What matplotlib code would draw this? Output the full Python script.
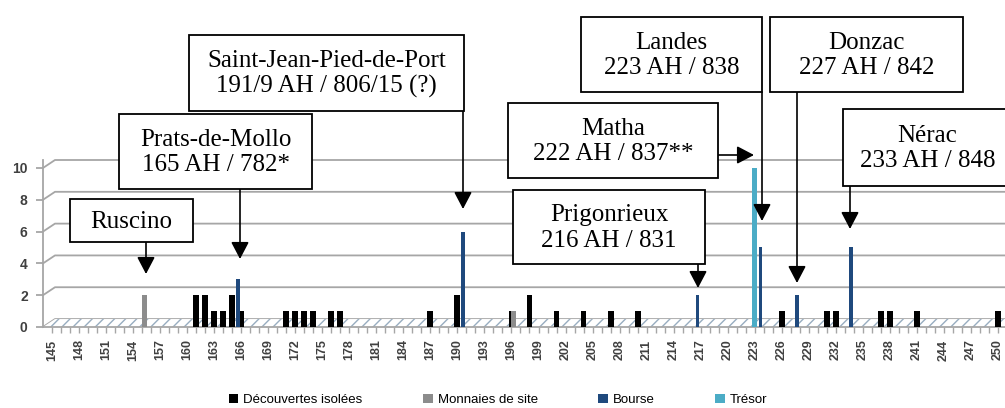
import matplotlib
matplotlib.use('Agg')
import matplotlib.pyplot as plt
from matplotlib.patches import Rectangle, Polygon, Patch
from matplotlib.transforms import Affine2D

# données (année AH -> nombre de monnaies)
iso_years = [161, 162, 163, 164, 165, 166, 171, 172, 173, 174, 176, 177, 187, 190,
             196, 198, 201, 204, 207, 210, 226, 231, 232, 237, 238, 241, 250]
iso_counts = [2, 2, 1, 1, 2, 1, 1, 1, 1, 1, 1, 1, 1, 2,
              1, 2, 1, 1, 1, 1, 1, 1, 1, 1, 1, 1, 1]
site_years = [155, 196]
site_counts = [2, 1]
bourse_years = [165, 190, 216, 223, 227, 233]
bourse_counts = [3, 6, 2, 5, 2, 5]
tresor_years = [222]
tresor_counts = [10]

series_labels = ['Découvertes isolées', 'Monnaies de site', 'Bourse', 'Trésor']
series_colors = ['#000000', '#8c8c8c', '#1f497d', '#4bacc6']

x_ticks = list(range(145, 251, 3))
y_ticks = [0, 2, 4, 6, 8, 10]

# étiquettes : texte, boîte (x0, y0, x1, y1 en pixels), flèche (départ, pointe)
notes = [
    ('Ruscino', (70, 199, 193, 242), (146, 242), (146, 274)),
    ('Prats-de-Mollo\n165 AH / 782*', (119, 114, 312, 189), (240, 189), (240, 259)),
    ('Saint-Jean-Pied-de-Port\n191/9 AH / 806/15 (?)', (189, 35, 464, 111), (463, 111), (463, 209)),
    ('Matha\n222 AH / 837**', (508, 103, 718, 178), (718, 155), (754, 155)),
    ('Landes\n223 AH / 838', (581, 17, 762, 92), (762, 92), (762, 221)),
    ('Donzac\n227 AH / 842', (770, 17, 963, 92), (797, 92), (797, 283)),
    ('Nérac\n233 AH / 848', (843, 109, 1012, 186), (850, 186), (850, 229)),
    ('Prigonrieux\n216 AH / 831', (513, 190, 705, 264), (698, 264), (698, 288)),
]

W, H = 1005, 408
fig = plt.figure(figsize=(W / 100, H / 100), dpi=100)
ax = fig.add_axes([43 / W, (H - 327) / H, (W - 43) / W, 167 / H])
ax.set_xlim(144.0, 250.78)
ax.set_ylim(0, 10.5)

grid_col = '#a6a6a6'
dx, dy = 1.33, 0.5  # décalage de la paroi du fond (effet 3D)
for v in y_ticks:
    ax.plot([144.0, 144.0 + dx, 250.78], [v, v + dy, v + dy], color=grid_col,
            lw=1.3, clip_on=False, zorder=1)

# sol hachuré
plt.rcParams['hatch.linewidth'] = 1.0
floor = Polygon([(144.0, 0), (144.0 + dx, dy), (250.78, dy), (250.78, 0)],
                closed=True, facecolor='white', edgecolor='#98adc0', hatch='///',
                lw=0, zorder=2, clip_on=False)
ax.add_patch(floor)

ax.bar(iso_years, iso_counts, width=0.65, color=series_colors[0], zorder=3)
ax.bar([y + 0.25 for y in site_years], site_counts, width=0.55, color=series_colors[1], zorder=3)
ax.bar([y + 0.65 for y in bourse_years], bourse_counts, width=0.42, color=series_colors[2], zorder=4)
ax.bar([y + 1.0 for y in tresor_years], tresor_counts, width=0.5, color=series_colors[3], zorder=4)

for s in ['top', 'right']:
    ax.spines[s].set_visible(False)
ax.spines['left'].set_color(grid_col)
ax.spines['bottom'].set_color(grid_col)
ax.spines['left'].set_linewidth(1.3)
ax.spines['bottom'].set_linewidth(1.3)
ax.set_xticks(x_ticks)
ax.set_xticks(range(145, 251), minor=True)
ax.set_yticks(y_ticks)
ax.tick_params(axis='x', which='both', length=4, color=grid_col, width=1, pad=5,
               labelrotation=90, labelsize=9, labelcolor='#404040')
ax.tick_params(axis='y', length=5, color=grid_col, width=1.3, pad=6,
               labelsize=10, labelcolor='#404040')
for lab in ax.get_xticklabels() + ax.get_yticklabels():
    lab.set_fontfamily('Liberation Sans')
    lab.set_fontweight('bold')

# boîtes et flèches en coordonnées pixels
px = Affine2D().scale(1 / W, -1 / H).translate(0, 1) + fig.transFigure
for text, (x0, y0, x1, y1), start, tip in notes:
    fig.patches.append(Rectangle((x0, y0), x1 - x0, y1 - y0, transform=px,
                                 facecolor='white', edgecolor='black', lw=1.3, zorder=5))
    fig.text((x0 + x1) / 2, (y0 + y1) / 2 + 1, text, transform=px, ha='center', va='center',
             fontsize=18, family='Liberation Serif', linespacing=1.2, zorder=6)
    ax.annotate('', xy=tip, xycoords=px, xytext=start, textcoords=px,
                arrowprops=dict(arrowstyle='-|>,head_length=0.8,head_width=0.42',
                                mutation_scale=13, lw=1.2, color='black',
                                shrinkA=0, shrinkB=0), zorder=6)

handles = [Patch(facecolor=c, edgecolor='none') for c in series_colors]
fig.legend(handles, series_labels, loc='center', bbox_to_anchor=(498 / W, 1 - 400 / H),
           ncol=4, frameon=False, handlelength=0.75, handleheight=0.75, handletextpad=0.35,
           columnspacing=4.6, borderpad=0, prop={'family': 'Liberation Sans', 'size': 9.5})

fig.savefig('out.png', dpi=100)
